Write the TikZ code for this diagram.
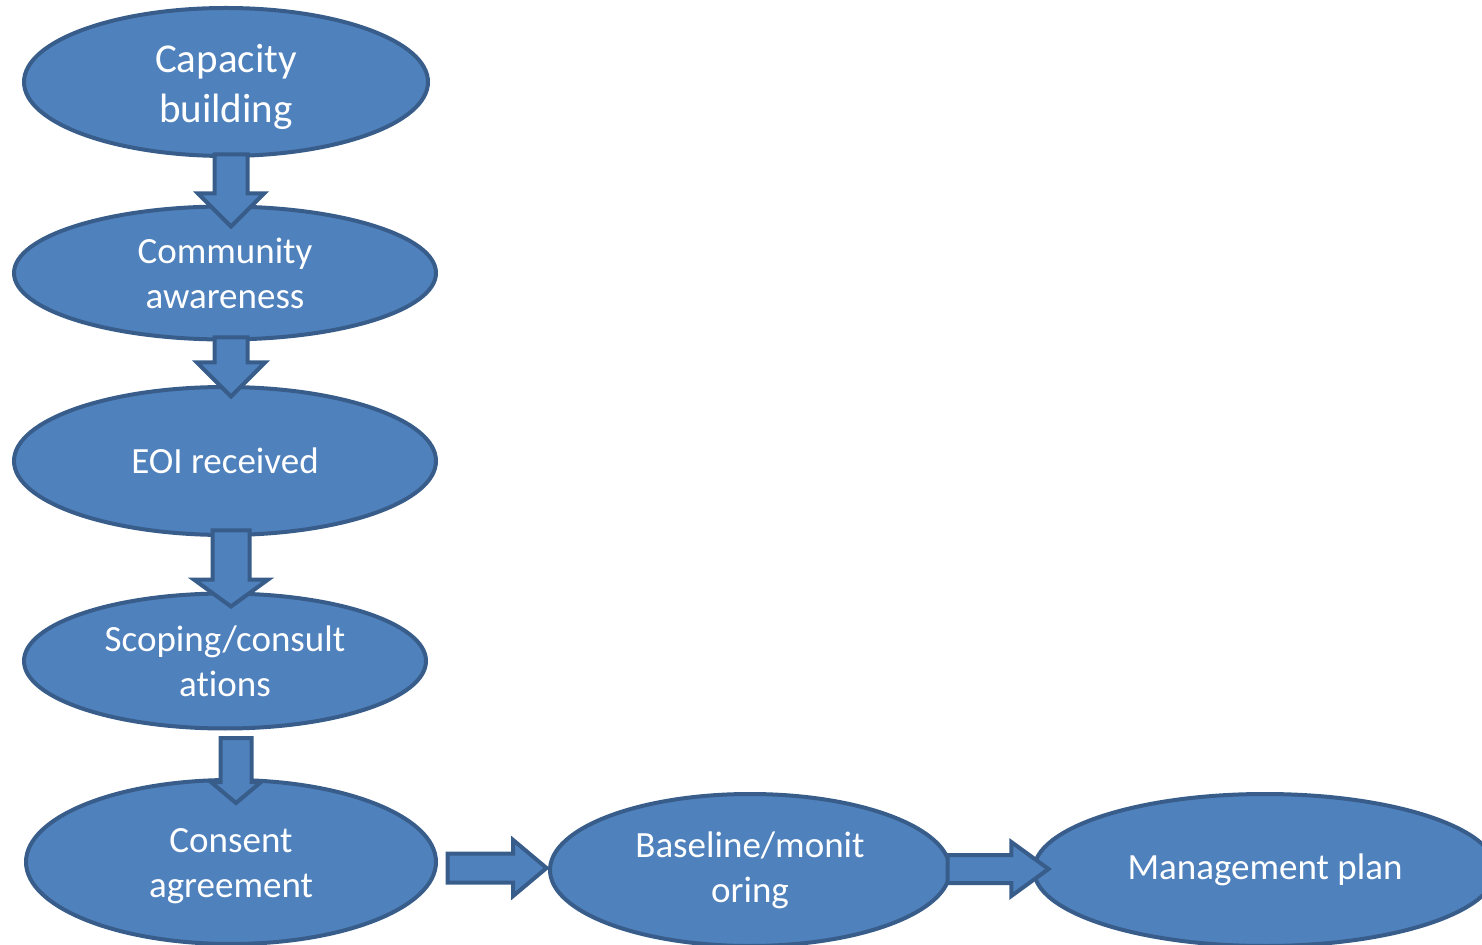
\documentclass[tikz,border=0pt]{standalone}
\usepackage{fontspec}
\setmainfont[Ligatures=NoCommon]{Carlito}
\usetikzlibrary{shapes.geometric,shapes.arrows}
\usetikzlibrary{calc}
\definecolor{efill}{HTML}{4F81BD}
\definecolor{eline}{HTML}{385D8A}
\tikzset{
	stage/.style={ellipse, draw=eline, fill=efill, line width=2pt, text=white,
		align=center, inner sep=0pt, font=\fontsize{18.5}{22.5}\selectfont},
	blockarrow/.style={single arrow, draw=eline, fill=efill, line width=2pt,
		inner xsep=0pt, anchor=tail, single arrow head indent=0pt}
}
\begin{document}
\begin{tikzpicture}[x=0.5pt,y=-0.5pt]
		\useasboundingbox (0,0) rectangle (1482,945);
		\clip (0,0) rectangle (1482,945);
		\path 	(226,82)	node[stage, minimum width=202pt, minimum height=74pt,
					font=\fontsize{20.5}{25}\selectfont] (cap) {\rule{0pt}{19pt}Capacity\\building}
			(225,273)	node[stage, minimum width=211pt, minimum height=66.5pt] (aware) {Community\\awareness}
			(225,461)	node[stage, minimum width=211pt, minimum height=74pt] (eoi) {EOI received}
			(225,661)	node[stage, minimum width=201pt, minimum height=67.5pt] (scope) {Scoping/consult\\ations}
			(231,862)	node[stage, minimum width=205pt, minimum height=82pt] (consent) {\rule{0pt}{16pt}Consent\\agreement}
			(750,870)	node[stage, minimum width=200pt, minimum height=76pt] (base) {Baseline/monit\\oring}
			(1265,870)	node[stage, minimum width=231pt, minimum height=76pt] (plan) {Management plan};
		% block arrows between the stages
		\node[blockarrow, rotate=-90, inner ysep=7.25pt, single arrow head extend=8.25pt,
			minimum height=36pt] (a1) at ($(cap.south)+(5,-5.5)$) {};
		\node[blockarrow, rotate=-90, inner ysep=7.25pt, single arrow head extend=8.75pt,
			minimum height=29.5pt] (a2) at ($(aware.south)+(6,-6)$) {};
		\node[blockarrow, rotate=-90, inner ysep=8.25pt, single arrow head extend=9.25pt,
			single arrow tip angle=108, minimum height=38pt] (a3) at ($(eoi.south)+(6,-8.5)$) {};
		\node[blockarrow, rotate=-90, inner ysep=6.75pt, single arrow head extend=4.75pt,
			single arrow tip angle=100, minimum height=32.5pt] (a4) at ($(scope.south)+(11,5.5)$) {};
		\node[blockarrow, inner ysep=6.25pt, single arrow head extend=6.75pt,
			single arrow tip angle=80, minimum height=49.5pt] (a5) at ($(consent.east)+(7.5,6)$) {};
		\node[blockarrow, inner ysep=6pt, single arrow head extend=6.5pt,
			single arrow tip angle=72, minimum height=50.5pt] (a6) at ($(base.east)+(-6.5,-1)$) {};
	\end{tikzpicture}
\end{document}
